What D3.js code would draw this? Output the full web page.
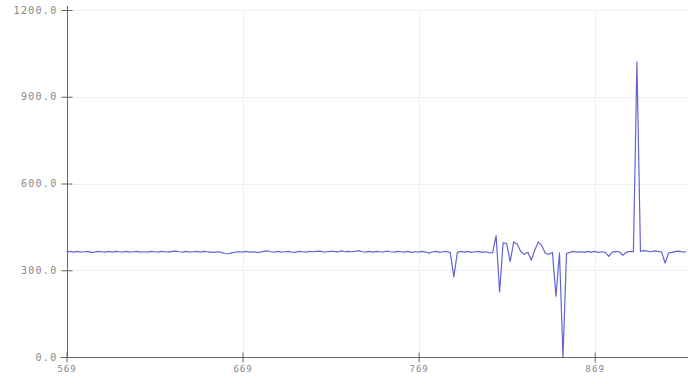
<!DOCTYPE html>
<html><head><meta charset="utf-8">
<script src="https://cdn.jsdelivr.net/npm/d3@7"></script>
<style>
html,body{margin:0;padding:0;background:#fff;}
svg{display:block;}
</style></head>
<body>
<svg id="c" width="688" height="384"></svg>
<script>
const xStart = 569, xStep = 2;
const values = [
364,365,363,365,363,364,365,362,363,365,
364,363,365,363,365,364,363,365,363,364,
365,363,364,363,365,364,363,365,364,363,
365,366,364,363,365,363,364,365,363,365,
364,363,362,364,362,358,357,360,363,364,
363,365,363,364,362,363,365,367,364,363,
365,363,364,365,363,362,365,364,363,365,
364,365,366,363,364,365,365,363,367,364,
365,364,365,368,364,363,365,363,365,364,
363,366,364,363,365,364,363,365,362,364,
363,365,363,359,364,365,362,364,365,361,
277,362,365,363,365,362,364,365,362,364,
361,360,420,225,395,392,330,398,390,365,
355,362,335,370,398,385,358,355,362,210,
360,0,358,362,365,363,364,362,365,363,
365,362,364,362,348,363,365,364,352,362,
365,364,1020,365,368,366,364,367,365,363,
325,360,362,365,366,363,364
];
const xTicks = [569, 669, 769, 869];
const yTicks = [0, 300, 600, 900, 1200];

const svg = d3.select("#c");
const x = d3.scaleLinear().domain([569, 922]).range([66.5, 688]);
const y = d3.scaleLinear().domain([0, 1200]).range([357, 10]);
const data = values.map((v, i) => ({x: xStart + i * xStep, y: v}));

// grid
svg.append("g").selectAll("line").data(xTicks.slice(1)).join("line")
  .attr("x1", d => Math.round(x(d)) + 0.5).attr("x2", d => Math.round(x(d)) + 0.5)
  .attr("y1", y(1200)).attr("y2", y(0))
  .attr("stroke", "#f0f0f0").attr("stroke-width", 1);
svg.append("g").selectAll("line").data(yTicks.slice(1)).join("line")
  .attr("x1", x(569)).attr("x2", 688)
  .attr("y1", d => Math.round(y(d)) + 0.5).attr("y2", d => Math.round(y(d)) + 0.5)
  .attr("stroke", "#f0f0f0").attr("stroke-width", 1);

// line
svg.append("path").datum(data)
  .attr("fill", "none").attr("stroke", "#6464d4").attr("stroke-width", 1.2)
  .attr("stroke-linejoin", "round")
  .attr("d", d3.line().x(d => x(d.x)).y(d => y(d.y)));

// axes
const fmtY = d => d.toFixed(1);
const yAxis = d3.axisLeft(y).tickValues(yTicks).tickFormat(fmtY).tickSizeInner(6).tickSizeOuter(0).tickPadding(4);
const gy = svg.append("g").attr("transform", `translate(${Math.round(x(569)) + 0.5},0)`).call(yAxis);
gy.select(".domain").attr("stroke", "#666").attr("d", `M0,${y(1200)-4}V${y(0)}`);
gy.selectAll(".tick line").attr("x1", -6).attr("x2", 5).attr("stroke", "#666");
gy.selectAll(".tick text").attr("fill", "#888").style("font-family", "DejaVu Sans Mono, monospace").style("font-size", "10px").style("letter-spacing", "1.3px").attr("x", -10);

const xAxis = d3.axisBottom(x).tickValues(xTicks).tickFormat(d3.format("d")).tickSizeInner(5).tickSizeOuter(0).tickPadding(4);
const gx = svg.append("g").attr("transform", `translate(0,${Math.round(y(0)) + 0.5})`).call(xAxis);
gx.select(".domain").attr("stroke", "#666").attr("d", `M${x(569)-6},0H688`);
gx.selectAll(".tick line").attr("y1", -5).attr("y2", 5).attr("stroke", "#666");
gx.selectAll(".tick text").attr("fill", "#888").style("font-family", "DejaVu Sans Mono, monospace").style("font-size", "9px").style("letter-spacing", "1px").attr("y", 8);
</script>
</body></html>
